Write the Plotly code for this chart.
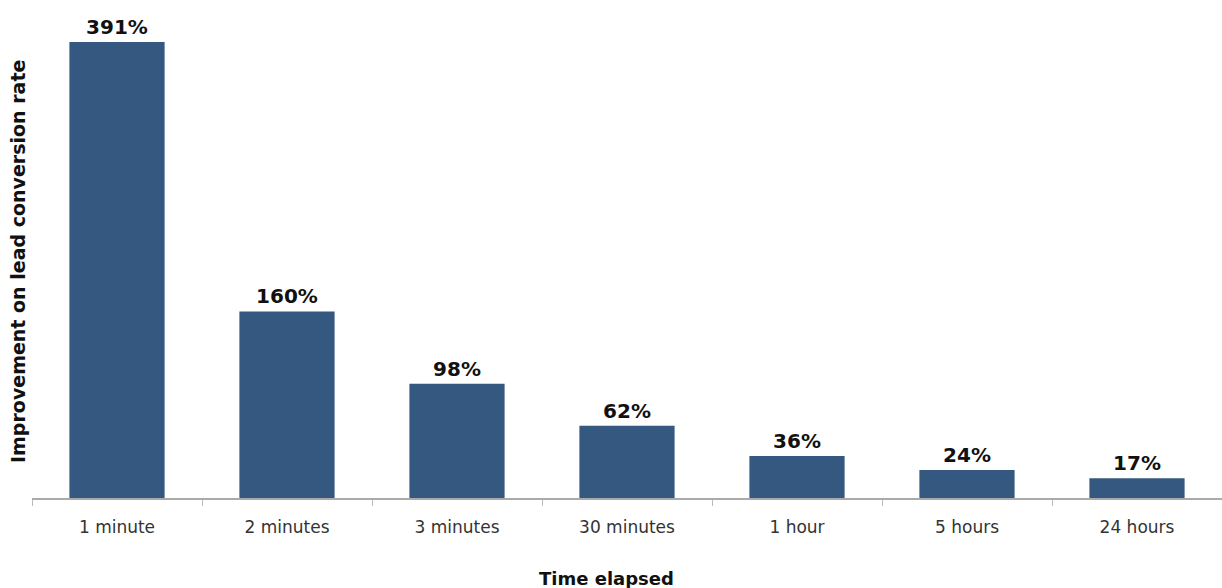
import plotly.graph_objects as go

categories = ["1 minute", "2 minutes", "3 minutes", "30 minutes", "1 hour", "5 hours", "24 hours"]
values = [391, 160, 98, 62, 36, 24, 17]
labels = [f"{v}%" for v in values]

PLOT_H = 588 - 10 - 90

fig = go.Figure(go.Bar(
    x=categories, y=values, text=labels, textposition="outside",
    textfont=dict(family="DejaVu Sans", size=20, color="#111111", weight="bold"),
    marker=dict(color="#34587f", line=dict(width=0)),
    width=0.56, cliponaxis=False,
))

fig.update_layout(
    width=1222, height=588,
    margin=dict(l=32, r=0, t=10, b=90),
    plot_bgcolor="white", paper_bgcolor="white",
    showlegend=False,
    font=dict(family="DejaVu Sans", color="#333333"),
    xaxis=dict(
        showline=True, linecolor="#aaaaaa", linewidth=2,
        ticks="outside", tickson="boundaries", ticklen=6, tickcolor="#bbbbbb", tickwidth=1,
        tickfont=dict(size=17, color="#333333"),
        ticklabelstandoff=13,
    ),
    yaxis=dict(range=[0, 418.5], visible=False),
    annotations=[
        dict(
            text="<b>Improvement on lead conversion rate</b>", textangle=-90,
            x=-14 / 1190, xref="paper", xanchor="center", y=0.5 - 8 / PLOT_H, yref="paper", yanchor="middle",
            showarrow=False, font=dict(size=19, color="#111111"),
        ),
        dict(
            text="<b>Time elapsed</b>",
            x=(606 - 32) / 1190, xref="paper", xanchor="center",
            y=-(578 - 498) / PLOT_H, yref="paper", yanchor="middle",
            showarrow=False, font=dict(size=18, color="#111111"),
        ),
    ],
)
fig.write_html("out.html")
